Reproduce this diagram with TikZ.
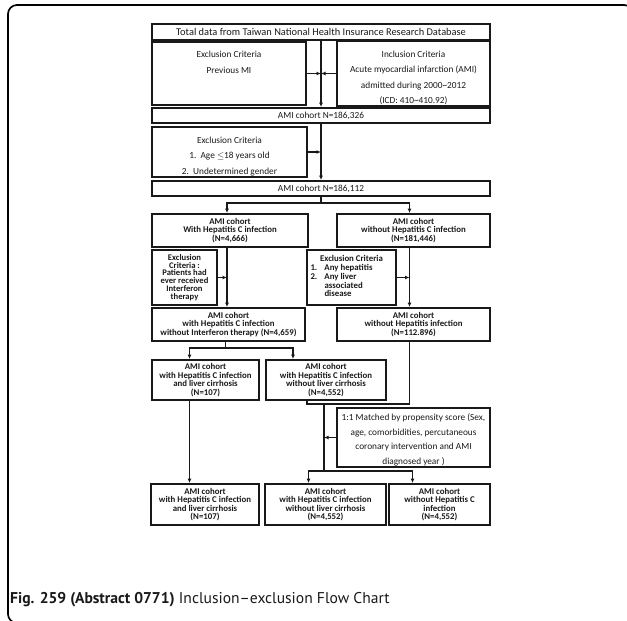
\documentclass[tikz,border=0pt]{standalone}
\usepackage{fontspec}
\setmainfont{Carlito}
\newfontfamily\capfont{PT Sans}
\usetikzlibrary{arrows.meta, positioning}
\definecolor{cInk}{RGB}{25,25,25}
\setlength{\lineskiplimit}{-6pt}

\begin{document}
\begin{tikzpicture}[x=1pt, y=-1pt,
    box/.style={draw=cInk, line width=1.9pt, inner sep=1pt, align=center, text=cInk,
      font=\fontsize{9.3}{15.5}\selectfont},
    cbox/.style={box, font=\bfseries\fontsize{8.8}{8.5}\selectfont},
    link/.style={draw=cInk, line width=1.5pt},
    arr/.style={link, -{Latex[length=4.5pt, width=4pt]}}]
  \useasboundingbox (0,0) rectangle (627,621);
  \draw[line width=1.7pt, rounded corners=9pt] (8,5) rectangle (633,623);

  % database and first selection
  \node[box, minimum width=338pt, minimum height=16pt, font=\fontsize{10.4}{11}\selectfont]
    (total) at (321,32) {Total data from Taiwan National Health Insurance Research Database};
  \node[box, minimum width=154pt, minimum height=61pt] (exmi) at (229,73.5)
    {\rule{0pt}{15pt}Exclusion Criteria\\Previous MI\\\mbox{}\\\mbox{}};
  \node[box, minimum width=153pt, minimum height=61pt] (incami) at (413.5,73.5)
    {\rule{0pt}{15pt}Inclusion Criteria\\Acute myocardial infarction (AMI)\\admitted during 2000\textasciitilde2012\\(ICD: 410\textasciitilde410.92)};
  \node[box, minimum width=338pt, minimum height=15pt] (ami1) at (321,115.5) {AMI cohort N=186,326};
  \node[box, minimum width=155pt, minimum height=50pt] (exage) at (229.5,152)
    {\rule{0pt}{15pt}Exclusion Criteria\\1.\ \ Age $\leq$18 years old\\2.\ \ Undetermined gender};
  \node[box, minimum width=338pt, minimum height=15pt] (ami2) at (321,188.5) {AMI cohort N=186,112};

  % hepatitis C split
  \node[cbox, minimum width=156pt, minimum height=33pt] (hcv) at (230,230.5)
    {AMI cohort\\With Hepatitis C infection\\(N=4,666)};
  \node[cbox, minimum width=153pt, minimum height=33pt] (nohcv) at (413.5,230.5)
    {AMI cohort\\without Hepatitis C infection\\(N=181,446)};
  \node[cbox, minimum width=65pt, minimum height=55pt, font=\bfseries\fontsize{8.6}{7.8}\selectfont]
    (exifn) at (184.5,277.5) {Exclusion\\Criteria :\\Patients had\\ever received\\Interferon\\therapy};
  \node[cbox, minimum width=89pt, minimum height=55pt, inner sep=0pt,
    font=\bfseries\fontsize{8.8}{8.7}\selectfont] (exhep) at (351.5,277.5)
    {\begin{tabular}{@{}p{14pt}@{}p{68pt}@{}}
      \multicolumn{2}{@{}c@{}}{Exclusion Criteria}\\
      1. & Any hepatitis\\
      2. & Any liver\\
         & associated\\
         & disease
     \end{tabular}};
  \node[cbox, minimum width=153pt, minimum height=33pt] (hcvifn) at (228.5,324.5)
    {AMI cohort\\with Hepatitis C infection\\without Interferon therapy (N=4,659)};
  \node[cbox, minimum width=153pt, minimum height=33pt] (nohep) at (413.5,324.5)
    {AMI cohort\\without Hepatitis infection\\(N=112.896)};
  \node[cbox, minimum width=107pt, minimum height=40pt] (hcvlc) at (205.5,380)
    {AMI cohort\\with Hepatitis C infection\\and liver cirrhosis\\(N=107)};
  \node[cbox, minimum width=120pt, minimum height=40pt] (hcvnolc) at (326,380)
    {AMI cohort\\with Hepatitis C infection\\without liver cirrhosis\\(N=4,552)};
  \node[box, minimum width=153pt, minimum height=55pt, font=\fontsize{9.3}{14.5}\selectfont]
    (psm) at (413.5,437.5)
    {\rule{0pt}{12pt}1:1 Matched by propensity score (Sex,\\age, comorbidities, percutaneous\\coronary intervention and AMI\\diagnosed year )};

  % final groups
  \node[cbox, minimum width=108pt, minimum height=41pt] (outlc) at (205,504.5)
    {AMI cohort\\with Hepatitis C infection\\and liver cirrhosis\\(N=107)};
  \node[cbox, minimum width=121pt, minimum height=41pt] (outnolc) at (325.5,504.5)
    {AMI cohort\\with Hepatitis C infection\\without liver cirrhosis\\(N=4,552)};
  \node[cbox, minimum width=101pt, minimum height=41pt] (outctrl) at (439.5,504.5)
    {AMI cohort\\without Hepatitis C\\infection\\(N=4,552)};

  % connectors
  \draw[arr] (total.south) -- (ami1.north);
  \draw[arr] (exmi.east) -- (exmi.east -| total.south);
  \draw[arr] (incami.west) -- (incami.west -| total.south);
  \draw[arr] (ami1.south) -- (ami2.north);
  \draw[arr] (exage.east) -- (exage.east -| ami1.south);
  \draw[link] (ami2.south) -- ++(0,6) coordinate (sp1);
  \draw[arr] (sp1) -| ([xshift=-3pt]hcv.north);
  \draw[arr] (sp1) -| ([xshift=-4pt]nohcv.north);
  \draw[arr] ([xshift=-3pt]hcv.south) coordinate (hv) -- (hv |- hcvifn.north);
  \draw[arr] (exifn.east) -- (exifn.east -| hv);
  \draw[arr] ([xshift=-4pt]nohcv.south) coordinate (nv) -- (nv |- nohep.north);
  \draw[arr] (exhep.east) -- (exhep.east -| nv);
  \draw[link] ([xshift=-3pt]hcvifn.south) -- ++(0,6) coordinate (sp2);
  \draw[arr] (sp2) -| ([xshift=-16pt]hcvlc.north);
  \draw[arr] (sp2) -| ([xshift=-33pt]hcvnolc.north);
  \draw[arr] ([xshift=-16pt]hcvlc.south) coordinate (lv) -- (lv |- outlc.north);
  \draw[link] ([xshift=-19pt]hcvnolc.south) -- ++(0,3) coordinate (mg) -| ([xshift=-4pt]nohep.south);
  \draw[link] ([xshift=17pt]mg) coordinate (jn) -- ++(0,67) coordinate (sp3);
  \draw[arr] (psm.west) -- (psm.west -| jn);
  \draw[arr] (sp3) -| ([xshift=-17pt]outnolc.north);
  \draw[arr] (sp3) -| ([xshift=-27pt]outctrl.north);

  \node[anchor=base west, inner sep=0pt, text=cInk, font=\capfont\fontsize{15.6}{18}\selectfont]
    (caption) at (10,603) {\textbf{Fig. 259 (Abstract 0771)} Inclusion–exclusion Flow Chart};
\end{tikzpicture}
\end{document}
